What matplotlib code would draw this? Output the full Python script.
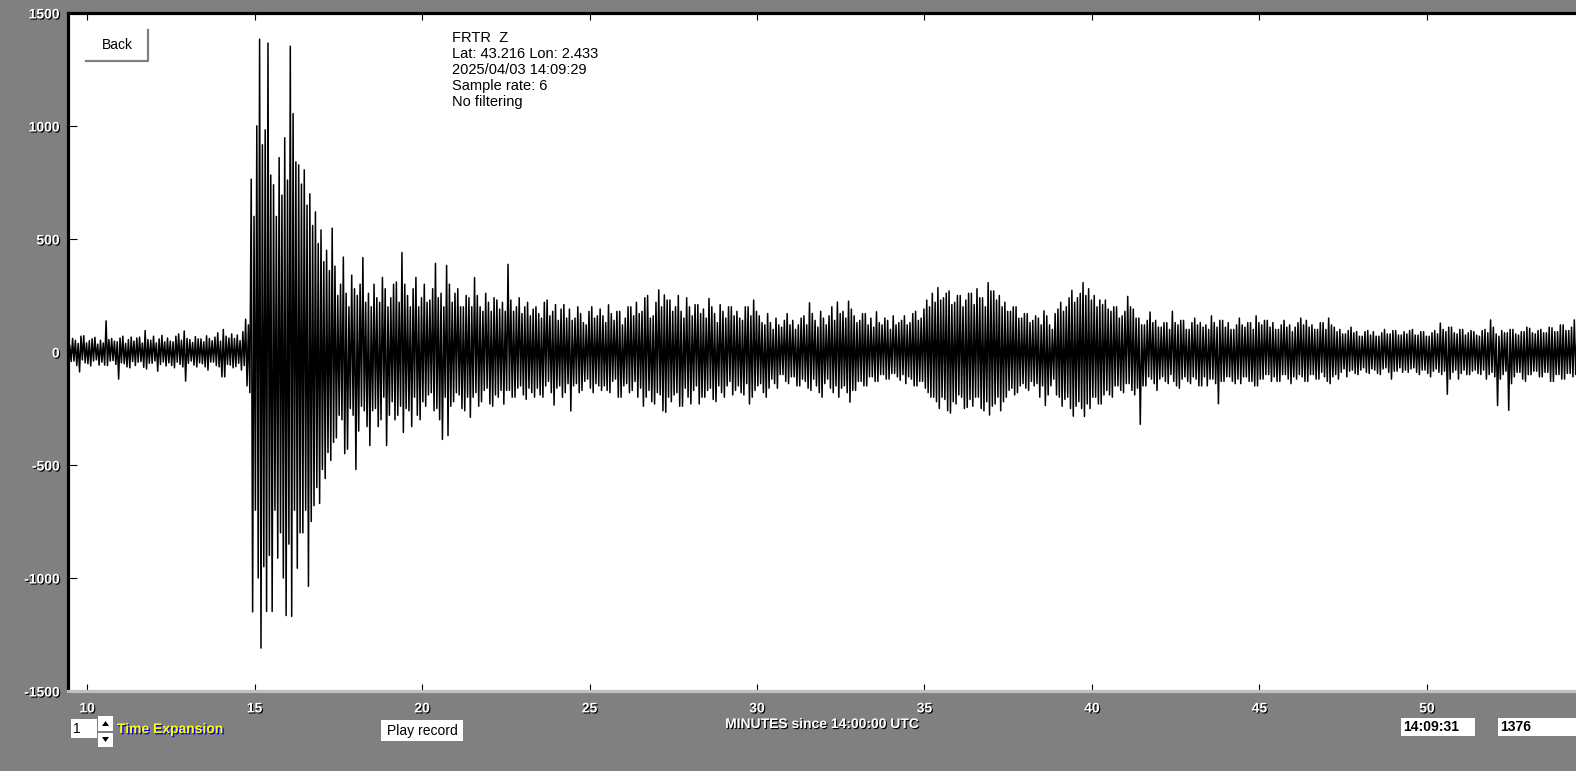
import matplotlib
matplotlib.use('Agg')
import matplotlib.pyplot as plt
import matplotlib.patheffects as pe
from matplotlib.patches import Rectangle, Polygon
import numpy as np

plt.rcParams['axes.unicode_minus'] = False

# seismogram: one row per minute, 12 peak/trough pairs each
t_start = 9.40
pairs_per_min = 12

peaks = [
    45, 30, 60, 52, 38, 70, 72, 40, 50, 58, 65, 35,                 # 9.4
    52, 40, 138, 55, 60, 48, 45, 62, 70, 38, 55, 66,                # 10.4
    48, 62, 66, 40, 95, 55, 52, 70, 40, 58, 74, 45,                 # 11.4
    62, 48, 45, 70, 80, 52, 93, 60, 55, 42, 68, 58,                 # 12.4
    58, 45, 72, 60, 50, 66, 85, 48, 100, 70, 62, 80,                # 13.4
    60, 75, 50, 90, 145, 120, 765, 600, 1001, 1384, 917, 983,       # 14.4
    1367, 783, 740, 600, 860, 694, 948, 761, 1353, 1055, 841, 828,  # 15.4
    743, 806, 650, 700, 560, 620, 480, 540, 400, 450, 360, 548,     # 16.4
    380, 250, 300, 420, 260, 200, 340, 280, 250, 300, 418, 220,     # 17.4
    260, 200, 300, 240, 220, 330, 280, 200, 240, 300, 310, 220,     # 18.4
    440, 300, 250, 200, 280, 330, 200, 240, 300, 220, 230, 280,     # 19.4
    392, 240, 260, 200, 383, 300, 220, 260, 280, 200, 200, 250,     # 20.4
    240, 200, 329, 250, 200, 180, 260, 220, 180, 240, 230, 190,     # 21.4
    220, 180, 388, 230, 180, 200, 240, 170, 200, 220, 160, 190,     # 22.4
    200, 170, 150, 220, 230, 160, 180, 210, 140, 190, 210, 150,     # 23.4
    190, 140, 150, 200, 170, 130, 120, 180, 200, 150, 160, 190,     # 24.4
    160, 130, 209, 170, 140, 180, 180, 120, 150, 200, 200, 160,     # 25.4
    220, 170, 180, 240, 250, 150, 160, 220, 275, 200, 253, 230,     # 26.4
    230, 180, 200, 250, 180, 150, 240, 200, 160, 210, 210, 170,     # 27.4
    190, 150, 237, 200, 170, 130, 210, 180, 150, 200, 200, 160,     # 28.4
    180, 150, 140, 200, 200, 160, 230, 180, 160, 130, 120, 170,     # 29.4
    130, 100, 150, 120, 110, 140, 170, 120, 140, 100, 120, 150,     # 30.4
    160, 120, 218, 170, 140, 110, 180, 150, 120, 160, 200, 140,     # 31.4
    221, 170, 180, 150, 225, 190, 160, 130, 140, 170, 170, 120,     # 32.4
    150, 110, 178, 130, 120, 150, 140, 100, 160, 120, 130, 140,     # 33.4
    160, 120, 130, 170, 180, 140, 150, 190, 230, 200, 260, 220,     # 34.4
    285, 230, 240, 260, 270, 210, 220, 250, 250, 200, 230, 260,     # 35.4
    260, 210, 280, 240, 240, 200, 307, 270, 270, 230, 250, 200,     # 36.4
    220, 180, 180, 200, 200, 150, 150, 170, 170, 130, 140, 160,     # 37.4
    150, 120, 182, 160, 120, 100, 170, 190, 220, 180, 200, 240,     # 38.4
    273, 220, 240, 260, 307, 250, 280, 230, 250, 200, 230, 210,     # 39.4
    230, 190, 180, 200, 200, 150, 160, 180, 246, 200, 190, 150,     # 40.4
    150, 120, 120, 140, 177, 130, 140, 110, 110, 130, 130, 100,     # 41.4
    180, 130, 120, 140, 140, 100, 100, 130, 150, 120, 130, 110,     # 42.4
    120, 100, 160, 130, 110, 140, 140, 110, 130, 100, 100, 120,     # 43.4
    150, 120, 110, 130, 130, 100, 160, 130, 120, 140, 140, 110,     # 44.4
    130, 100, 100, 120, 140, 110, 120, 90, 110, 130, 150, 120,      # 45.4
    140, 110, 120, 100, 100, 130, 130, 100, 150, 120, 110, 90,      # 46.4
    100, 80, 80, 95, 110, 85, 90, 70, 70, 90, 95, 75,               # 47.4
    90, 70, 70, 85, 100, 80, 80, 95, 95, 75, 75, 90,                # 48.4
    80, 95, 100, 75, 75, 90, 90, 70, 70, 85, 95, 80,                # 49.4
    128, 100, 90, 110, 110, 85, 80, 100, 100, 75, 85, 95,           # 50.4
    90, 75, 70, 95, 100, 85, 142, 110, 80, 70, 95, 85,              # 51.4
    85, 100, 100, 80, 75, 90, 90, 110, 105, 85, 80, 95,             # 52.4
    100, 85, 85, 110, 107, 90, 90, 120, 120, 95, 95, 110,           # 53.4
    142, 100, 90, 100, 100, 80, 80, 95, 95, 85, 85, 100,            # 54.4
]

troughs = [
    -55, -42, -40, -60, -88, -35, -48, -52, -62, -40, -35, -58,
    -45, -58, -60, -40, -38, -55, -120, -48, -52, -66, -70, -42,
    -60, -45, -42, -68, -75, -50, -50, -40, -85, -55, -44, -62,
    -48, -60, -70, -45, -55, -66, -129, -50, -40, -58, -66, -48,
    -52, -66, -80, -45, -45, -60, -66, -110, -110, -55, -58, -70,
    -65, -50, -80, -60, -150, -180, -1150, -700, -1000, -1310, -950, -1148,
    -900, -1148, -700, -912, -800, -1000, -1166, -850, -1170, -700, -957, -800,
    -800, -700, -1037, -750, -680, -600, -670, -520, -560, -445, -480, -400,
    -380, -280, -300, -450, -430, -250, -280, -520, -350, -240, -260, -330,
    -414, -260, -250, -330, -300, -200, -414, -280, -220, -300, -280, -240,
    -356, -250, -260, -330, -200, -280, -300, -220, -240, -190, -180, -260,
    -250, -300, -387, -200, -370, -240, -220, -180, -190, -250, -260, -200,
    -289, -200, -180, -240, -220, -170, -160, -230, -240, -190, -200, -170,
    -231, -170, -170, -200, -200, -160, -150, -190, -210, -160, -180, -200,
    -160, -190, -200, -150, -130, -180, -235, -160, -150, -200, -180, -140,
    -261, -150, -140, -180, -170, -130, -120, -160, -180, -140, -150, -170,
    -150, -170, -180, -130, -120, -200, -200, -150, -140, -180, -170, -130,
    -200, -160, -240, -200, -170, -220, -230, -180, -190, -260, -267, -200,
    -220, -190, -180, -240, -240, -160, -200, -230, -170, -150, -230, -200,
    -200, -170, -160, -210, -220, -150, -180, -200, -150, -130, -190, -170,
    -150, -180, -190, -140, -230, -200, -170, -150, -140, -180, -200, -160,
    -120, -140, -160, -100, -100, -130, -140, -110, -110, -150, -150, -120,
    -130, -160, -170, -120, -150, -180, -200, -140, -120, -160, -180, -150,
    -200, -160, -150, -180, -222, -170, -170, -130, -130, -150, -150, -110,
    -110, -130, -130, -100, -100, -120, -120, -95, -95, -110, -125, -100,
    -140, -110, -120, -150, -150, -130, -130, -160, -180, -200, -200, -220,
    -250, -200, -210, -260, -270, -220, -230, -190, -200, -250, -245, -210,
    -240, -200, -200, -250, -260, -220, -279, -240, -230, -200, -260, -220,
    -200, -170, -160, -190, -180, -150, -140, -160, -170, -130, -150, -140,
    -200, -150, -237, -190, -150, -120, -190, -200, -240, -210, -200, -250,
    -284, -240, -220, -250, -285, -230, -250, -200, -200, -230, -230, -190,
    -170, -190, -200, -150, -150, -170, -180, -140, -140, -170, -190, -160,
    -320, -150, -150, -110, -120, -140, -170, -120, -110, -130, -140, -100,
    -130, -150, -160, -120, -110, -130, -140, -110, -120, -150, -150, -110,
    -150, -120, -120, -140, -229, -130, -130, -110, -110, -130, -140, -120,
    -140, -110, -110, -130, -130, -150, -150, -120, -120, -100, -100, -130,
    -110, -130, -130, -100, -100, -120, -140, -110, -120, -100, -110, -130,
    -130, -100, -100, -120, -120, -90, -110, -130, -140, -110, -100, -120,
    -90, -75, -110, -85, -80, -95, -100, -80, -70, -90, -95, -75,
    -80, -95, -100, -75, -70, -90, -120, -85, -85, -70, -90, -80,
    -90, -75, -70, -90, -100, -80, -80, -95, -110, -85, -75, -90,
    -100, -85, -187, -120, -90, -80, -120, -95, -80, -100, -100, -85,
    -80, -95, -100, -80, -120, -100, -90, -110, -237, -120, -100, -85,
    -258, -140, -110, -90, -90, -120, -130, -100, -100, -85, -85, -110,
    -110, -90, -90, -130, -130, -100, -100, -120, -120, -95, -95, -110,
    -100, -90, -90, -80, -80, -110, -110, -95, -95, -90, -90, -100,
]

x_ticks = [10, 15, 20, 25, 30, 35, 40, 45, 50]
y_ticks = [-1500, -1000, -500, 0, 500, 1000, 1500]
info_lines = ["FRTR  Z", "Lat: 43.216 Lon: 2.433", "2025/04/03 14:09:29",
              "Sample rate: 6", "No filtering"]

GRAY = '#808080'
W, H = 1576, 771
font = 'Liberation Sans'

fig = plt.figure(figsize=(W / 100, H / 100), dpi=100, facecolor=GRAY)
ax = fig.add_axes([68 / W, 80 / H, 1 - 68 / W, 678 / H])

# zigzag between the read extremes
y = np.empty(2 * len(peaks))
y[0::2] = peaks
y[1::2] = troughs
t = t_start + np.arange(len(y)) / (2 * pairs_per_min)
ax.plot(t, y, color='black', lw=1.1)

ax.set_xlim(9.43, 54.45)
ax.set_ylim(-1500, 1500)
ax.set_xticks(x_ticks)
ax.set_yticks(y_ticks)

ax.spines['right'].set_visible(False)
ax.spines['top'].set_color('black')
ax.spines['top'].set_linewidth(2.3)
ax.spines['left'].set_color('black')
ax.spines['left'].set_linewidth(2.3)
ax.spines['bottom'].set_color('#c0c0c0')
ax.spines['bottom'].set_linewidth(2.3)

ax.tick_params(axis='x', direction='in', top=True, length=5, width=0.8,
               color='black', pad=7.5)
ax.tick_params(axis='y', direction='in', left=True, right=False, length=6.5,
               width=0.8, color='black', pad=6)

shadow = [pe.withSimplePatchShadow(offset=(0.8, -0.8), shadow_rgbFace='black', alpha=1.0)]
for lbl in ax.get_xticklabels() + ax.get_yticklabels():
    lbl.set_color('white')
    lbl.set_fontfamily(font)
    lbl.set_fontweight('bold')
    lbl.set_fontsize(10)
    lbl.set_path_effects(shadow)

# overlay in pixel coordinates for the screen widgets
ov = fig.add_axes([0, 0, 1, 1], zorder=5)
ov.set_xlim(0, W)
ov.set_ylim(H, 0)
ov.axis('off')
ov.patch.set_visible(False)

for i, line in enumerate(info_lines):
    ov.text(452, 38 + 16 * i, line, fontsize=10.5, family=font, va='center', ha='left')

# Back button
ov.add_patch(Rectangle((86, 30), 62, 31, fc='white', ec='none'))
ov.plot([86, 148, 148], [61, 61, 30], color=GRAY, lw=1.6)
ov.text(117, 45, "Back", fontsize=10, family=font, ha='center', va='center')

# time expansion control
ov.add_patch(Rectangle((71, 719), 26, 19, fc='white', ec='none'))
ov.text(73, 729, "1", fontsize=10, family=font, va='center')
ov.add_patch(Rectangle((98, 716), 15, 15, fc='white', ec='none'))
ov.add_patch(Rectangle((98, 733), 15, 14, fc='white', ec='none'))
ov.add_patch(Polygon([[102, 726], [109, 726], [105.5, 721]], fc='black', ec='none'))
ov.add_patch(Polygon([[102, 737], [109, 737], [105.5, 742]], fc='black', ec='none'))
ov.text(117, 729, "Time Expansion", fontsize=10, family=font, fontweight='bold',
        color='#ffff00', va='center',
        path_effects=[pe.withSimplePatchShadow(offset=(1, -1), shadow_rgbFace='#0000ff', alpha=1.0)])

# play record button
ov.add_patch(Rectangle((381, 720), 82, 21, fc='white', ec='none'))
ov.text(422, 731, "Play record", fontsize=10, family=font, ha='center', va='center')

ov.text(822, 724, "MINUTES since 14:00:00 UTC", fontsize=10, family=font,
        fontweight='bold', color='white', ha='center', va='center', path_effects=shadow)

# time / sample boxes
ov.add_patch(Rectangle((1401, 718), 74, 18, fc='white', ec='none'))
ov.text(1403, 727, "14:09:31", fontsize=10, family=font, fontweight='bold', va='center')
ov.add_patch(Rectangle((1498, 718), 78, 18, fc='white', ec='none'))
ov.text(1500, 727, "1376", fontsize=10, family=font, fontweight='bold', va='center')

fig.savefig('out.png', dpi=100, facecolor=GRAY)
